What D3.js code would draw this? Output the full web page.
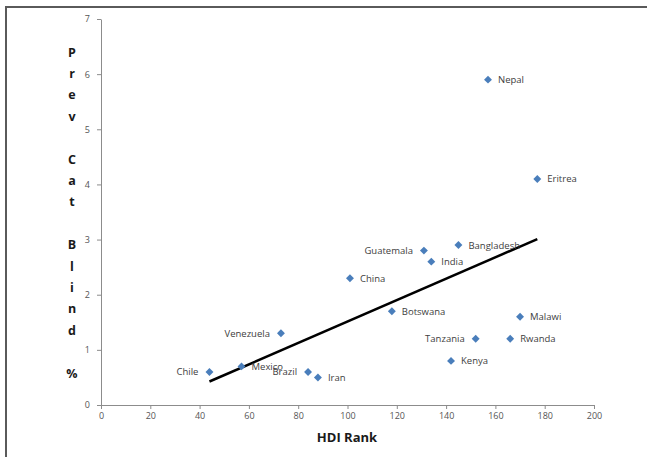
<!DOCTYPE html>
<html>
<head>
<meta charset="utf-8">
<script src="https://cdn.jsdelivr.net/npm/d3@7"></script>
<style>
  html, body { margin: 0; padding: 0; background: #fff; }
  svg { display: block; }
  text { font-family: "Open Sans", "Noto Sans", sans-serif; }
</style>
</head>
<body>
<svg id="chart" width="647" height="457"></svg>
<script>
// Prevalence of cataract blindness against HDI rank
const countries = ["Nepal", "Eritrea", "Bangladesh", "Guatemala", "India", "China", "Botswana", "Malawi",
                   "Tanzania", "Rwanda", "Kenya", "Venezuela", "Chile", "Mexico", "Brazil", "Iran"];
const hdiRank   = [157, 177, 145, 131, 134, 101, 118, 170, 152, 166, 142, 73, 44, 57, 84, 88];
const prevalence = [5.9, 4.1, 2.9, 2.8, 2.6, 2.3, 1.7, 1.6, 1.2, 1.2, 0.8, 1.3, 0.6, 0.7, 0.6, 0.5];
// labels drawn on the left side of their marker
const leftLabelled = ["Guatemala", "Venezuela", "Chile", "Tanzania", "Brazil"];
const xTicks = [0, 20, 40, 60, 80, 100, 120, 140, 160, 180, 200];
const yTicks = [0, 1, 2, 3, 4, 5, 6, 7];
const xTitle = "HDI Rank";
const yTitle = "Prev Cat Blind %";

const svg = d3.select("#chart");

// outer frame
svg.append("rect")
  .attr("x", 6).attr("y", 7).attr("width", 700).attr("height", 500)
  .attr("fill", "none").attr("stroke", "#5a5a5a").attr("stroke-width", 2);

const x = d3.scaleLinear().domain([0, 200]).range([101, 594]);
const y = d3.scaleLinear().domain([0, 7]).range([405, 19]);

const xAxis = svg.append("g")
  .attr("transform", `translate(0,${y(0)})`)
  .call(d3.axisBottom(x).tickValues(xTicks).tickFormat(d3.format("d"))
    .tickSizeInner(4).tickSizeOuter(0).tickPadding(4));
const yAxis = svg.append("g")
  .attr("transform", `translate(${x(0)},0)`)
  .call(d3.axisLeft(y).tickValues(yTicks).tickFormat(d3.format("d"))
    .tickSizeInner(4).tickSizeOuter(0).tickPadding(7));

[xAxis, yAxis].forEach(g => {
  g.select(".domain").attr("stroke", "#8c8c8c");
  g.selectAll(".tick line").attr("stroke", "#8c8c8c");
  g.selectAll(".tick text")
    .attr("fill", "#555")
    .style("font-size", "9px")
    .style("font-family", "'Open Sans', sans-serif");
});

// x-axis title
svg.append("text")
  .attr("x", 347).attr("y", 442)
  .attr("text-anchor", "middle")
  .attr("fill", "#1a1a1a")
  .style("font-size", "13px").style("font-weight", "bold")
  .text(xTitle);

// y-axis title, one character per line
const chars = yTitle.split("");
svg.append("g").selectAll("text")
  .data(chars)
  .join("text")
  .attr("x", 72)
  .attr("y", (d, i) => 52 + i * 21.4)
  .attr("text-anchor", "middle")
  .attr("dominant-baseline", "central")
  .attr("fill", "#1a1a1a")
  .style("font-size", "12.5px").style("font-weight", "bold")
  .text(d => d);

// least-squares trend line over the data's x extent
const n = hdiRank.length;
const mx = d3.mean(hdiRank), my = d3.mean(prevalence);
let sxy = 0, sxx = 0;
for (let i = 0; i < n; i++) {
  sxy += (hdiRank[i] - mx) * (prevalence[i] - my);
  sxx += (hdiRank[i] - mx) ** 2;
}
const slope = sxy / sxx, intercept = my - slope * mx;
const [x0, x1] = d3.extent(hdiRank);
svg.append("line")
  .attr("x1", x(x0)).attr("y1", y(intercept + slope * x0))
  .attr("x2", x(x1)).attr("y2", y(intercept + slope * x1))
  .attr("stroke", "#000").attr("stroke-width", 2.5);

// markers
const points = countries.map((c, i) => ({ name: c, rank: hdiRank[i], prev: prevalence[i] }));
const diamond = d3.symbol().type(d3.symbolDiamond2).size(40);
svg.append("g").selectAll("path")
  .data(points)
  .join("path")
  .attr("transform", d => `translate(${x(d.rank)},${y(d.prev)})`)
  .attr("d", diamond)
  .attr("fill", "#4a7ebb");

// data labels
svg.append("g").selectAll("text")
  .data(points)
  .join("text")
  .attr("x", d => x(d.rank) + (leftLabelled.includes(d.name) ? -11 : 10))
  .attr("y", d => y(d.prev))
  .attr("text-anchor", d => leftLabelled.includes(d.name) ? "end" : "start")
  .attr("dominant-baseline", "central")
  .attr("fill", "#404040")
  .style("font-size", "9.5px")
  .text(d => d.name);
</script>
</body>
</html>
